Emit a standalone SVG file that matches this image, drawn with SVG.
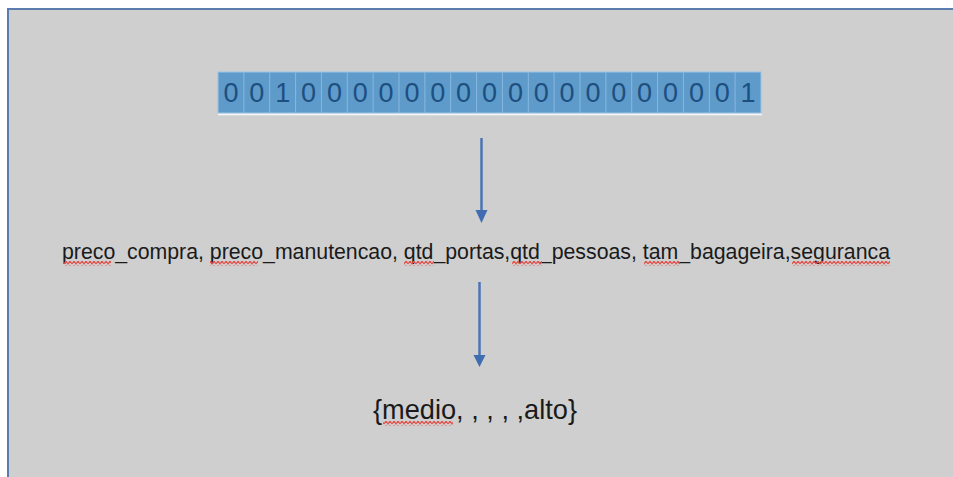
<svg xmlns="http://www.w3.org/2000/svg" width="953" height="477" viewBox="0 0 953 477">
  <style>
    .bit { font-family: "Liberation Sans", Arial, sans-serif; font-size: 27px; fill: #1d4f80; text-anchor: middle; }
    .lbl { font-family: "Liberation Sans", Arial, sans-serif; fill: #1a1a1a; }
    .conn { stroke: #4a74b4; stroke-width: 2.5; fill: none; }
    .head { fill: #3f6db0; }
  </style>
  <defs>
    <!-- wavy spell-check underline, tiled along a strip -->
    <pattern id="wave" width="8" height="5" patternUnits="userSpaceOnUse">
      <path d="M0,4 L2,1 L4,4 L6,1 L8,4" fill="none" stroke="#e2504c" stroke-width="1.2"/>
    </pattern>
  </defs>

  <!-- page background -->
  <rect x="0" y="0" width="953" height="477" fill="#ffffff"/>
  <rect x="8" y="9" width="960" height="480" fill="#cfcfcf" stroke="#5a7cae" stroke-width="2"/>

  <!-- bit vector -->
  <g id="bits">
    <rect x="218" y="72" width="543" height="41" fill="#5e9bca" stroke="#9cc4e6" stroke-width="1"/>
    <g stroke="#88b8e0" stroke-width="1">
      <line x1="243.9" y1="72" x2="243.9" y2="113"/>
      <line x1="269.7" y1="72" x2="269.7" y2="113"/>
      <line x1="295.6" y1="72" x2="295.6" y2="113"/>
      <line x1="321.4" y1="72" x2="321.4" y2="113"/>
      <line x1="347.3" y1="72" x2="347.3" y2="113"/>
      <line x1="373.1" y1="72" x2="373.1" y2="113"/>
      <line x1="399.0" y1="72" x2="399.0" y2="113"/>
      <line x1="424.9" y1="72" x2="424.9" y2="113"/>
      <line x1="450.7" y1="72" x2="450.7" y2="113"/>
      <line x1="476.6" y1="72" x2="476.6" y2="113"/>
      <line x1="502.4" y1="72" x2="502.4" y2="113"/>
      <line x1="528.3" y1="72" x2="528.3" y2="113"/>
      <line x1="554.1" y1="72" x2="554.1" y2="113"/>
      <line x1="580.0" y1="72" x2="580.0" y2="113"/>
      <line x1="605.9" y1="72" x2="605.9" y2="113"/>
      <line x1="631.7" y1="72" x2="631.7" y2="113"/>
      <line x1="657.6" y1="72" x2="657.6" y2="113"/>
      <line x1="683.4" y1="72" x2="683.4" y2="113"/>
      <line x1="709.3" y1="72" x2="709.3" y2="113"/>
      <line x1="735.1" y1="72" x2="735.1" y2="113"/>
    </g>
    <line x1="218" y1="114.5" x2="762" y2="114.5" stroke="#f4f8fc" stroke-width="1.5"/>
    <g class="bit">
      <text x="230.9" y="102">0</text>
      <text x="256.8" y="102">0</text>
      <text x="282.7" y="102">1</text>
      <text x="308.5" y="102">0</text>
      <text x="334.4" y="102">0</text>
      <text x="360.2" y="102">0</text>
      <text x="386.1" y="102">0</text>
      <text x="411.9" y="102">0</text>
      <text x="437.8" y="102">0</text>
      <text x="463.6" y="102">0</text>
      <text x="489.5" y="102">0</text>
      <text x="515.4" y="102">0</text>
      <text x="541.2" y="102">0</text>
      <text x="567.1" y="102">0</text>
      <text x="592.9" y="102">0</text>
      <text x="618.8" y="102">0</text>
      <text x="644.6" y="102">0</text>
      <text x="670.5" y="102">0</text>
      <text x="696.4" y="102">0</text>
      <text x="722.2" y="102">0</text>
      <text x="748.1" y="102">1</text>
    </g>
  </g>

  <!-- attribute list -->
  <g id="attrs">
    <text class="lbl" x="62" y="259" font-size="21.3" textLength="828" lengthAdjust="spacing">preco_compra, preco_manutencao, qtd_portas,qtd_pessoas, tam_bagageira,seguranca</text>
    <rect x="63" y="261" width="48" height="5" fill="url(#wave)"/>
    <rect x="210" y="261" width="48" height="5" fill="url(#wave)"/>
    <rect x="404" y="261" width="30" height="5" fill="url(#wave)"/>
    <rect x="512" y="261" width="30" height="5" fill="url(#wave)"/>
    <rect x="644" y="261" width="36" height="5" fill="url(#wave)"/>
    <rect x="792" y="261" width="98" height="5" fill="url(#wave)"/>
  </g>

  <!-- class set -->
  <g id="classes">
    <text class="lbl" x="373" y="419" font-size="27.2" textLength="204" lengthAdjust="spacing">{medio, , , , ,alto}</text>
    <rect x="383" y="421" width="70" height="5" fill="url(#wave)"/>
  </g>

  <!-- connectors -->
  <g id="connectors">
    <line class="conn" x1="481.5" y1="138" x2="481.5" y2="212"/>
    <path class="head" d="M475.5,210 L487.5,210 L481.5,223 Z"/>
    <line class="conn" x1="479.5" y1="282" x2="479.5" y2="357"/>
    <path class="head" d="M473.5,355 L485.5,355 L479.5,367 Z"/>
  </g>
</svg>
